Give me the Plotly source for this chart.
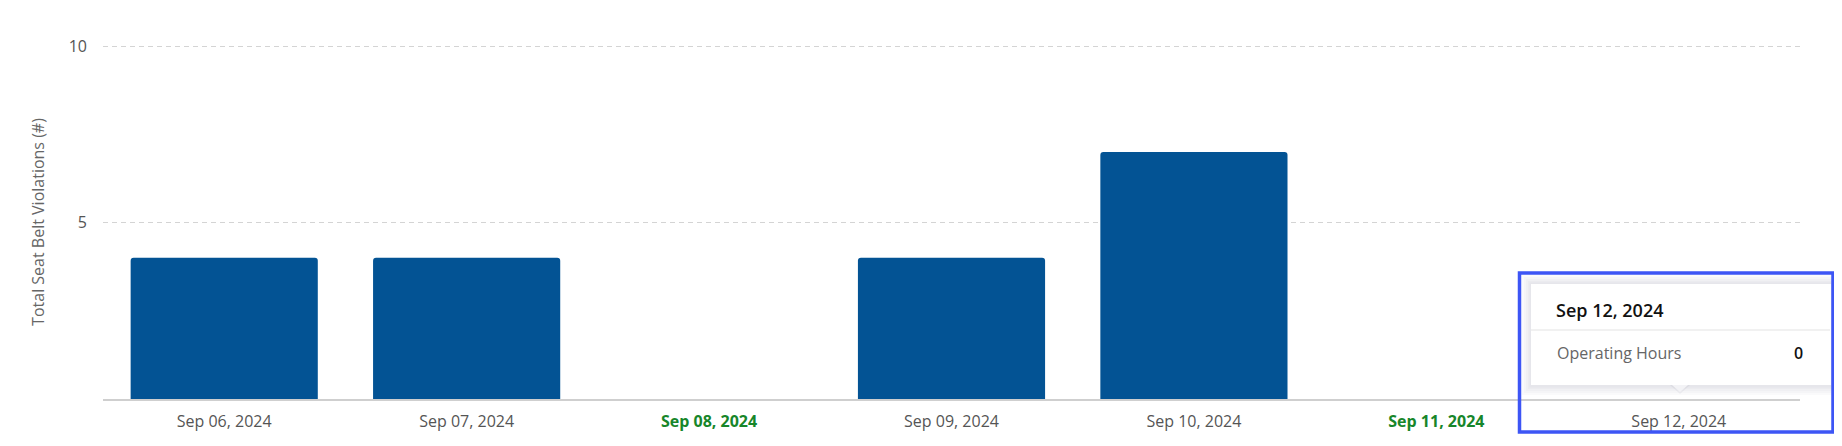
import plotly.graph_objects as go

dates = ["Sep 06, 2024", "Sep 07, 2024", "Sep 08, 2024", "Sep 09, 2024",
         "Sep 10, 2024", "Sep 11, 2024", "Sep 12, 2024"]
violations = [4, 4, 0, 4, 7, 0, 0]
highlighted = ["Sep 08, 2024", "Sep 11, 2024"]
y_ticks = [5, 10]
tooltip_title = "Sep 12, 2024"
tooltip_label = "Operating Hours"
tooltip_value = "0"

OFF = 8  # default body margin of the html page
W, H = 1842 - OFF, 446 - OFF
ML, MR, MT, MB = 103 - OFF, 42, 45 - OFF, 47
PW, PH = W - ML - MR, H - MT - MB
Y_TOP = 10.03


def px(x):
    """page pixel x -> paper fraction"""
    return (x - OFF - ML) / PW


def py(y):
    """page pixel y -> paper fraction"""
    return (H - MB - (y - OFF)) / PH


ticktext = []
for d in dates:
    if d in highlighted:
        ticktext.append(f"<b><span style='color:#17862a'>{d}</span></b>")
    else:
        ticktext.append(d)

fig = go.Figure()
fig.add_trace(go.Bar(
    x=dates, y=violations,
    marker=dict(color="#035394", cornerradius=3, line=dict(width=0)),
    hoverinfo="skip",
))

shapes = []
# tooltip shadow (soft, several layers)
for d in [9, 7, 5, 3, 1.5]:
    shapes.append(dict(type="rect", xref="paper", yref="paper",
                       x0=px(1531 - d), x1=px(1831 + d), y0=py(386 + d), y1=py(284 - d),
                       line=dict(width=0), fillcolor="rgba(40,40,80,0.022)", layer="above"))
# pointer shadow + pointer
shapes.append(dict(type="path", xref="paper", yref="paper",
                   path=f"M {px(1670)} {py(385)} L {px(1690)} {py(385)} L {px(1680)} {py(394)} Z",
                   line=dict(width=0), fillcolor="rgba(40,40,80,0.05)", layer="above"))
shapes.append(dict(type="rect", xref="paper", yref="paper",
                   x0=px(1531), x1=px(1831), y0=py(385), y1=py(284),
                   line=dict(width=0), fillcolor="white", layer="above"))
shapes.append(dict(type="path", xref="paper", yref="paper",
                   path=f"M {px(1672)} {py(385)} L {px(1688)} {py(385)} L {px(1680)} {py(392)} Z",
                   line=dict(width=0), fillcolor="#f3f3f6", layer="above"))
# divider
shapes.append(dict(type="line", xref="paper", yref="paper",
                   x0=px(1531), x1=px(1830), y0=py(330), y1=py(330),
                   line=dict(color="#e3e3e3", width=1), layer="above"))
# blue focus rectangle
shapes.append(dict(type="rect", xref="paper", yref="paper",
                   x0=px(1519.5), x1=px(1833), y0=py(432), y1=py(273),
                   line=dict(color="#3d55f5", width=3.5), fillcolor="rgba(0,0,0,0)", layer="above"))

annotations = [
    dict(text=tooltip_title, xref="paper", yref="paper",
         x=px(1554), y=py(310), xanchor="left", yanchor="middle", showarrow=False,
         font=dict(family="Open Sans", size=18, color="#111111", weight=600)),
    dict(text=tooltip_label, xref="paper", yref="paper",
         x=px(1555), y=py(353), xanchor="left", yanchor="middle", showarrow=False,
         font=dict(family="Open Sans", size=16, color="#666666")),
    dict(text=tooltip_value, xref="paper", yref="paper",
         x=px(1805), y=py(353), xanchor="right", yanchor="middle", showarrow=False,
         font=dict(family="Open Sans", size=16, color="#111111", weight=600)),
]

fig.update_layout(
    width=W, height=H,
    margin=dict(l=ML, r=MR, t=MT, b=MB, pad=0, autoexpand=False),
    paper_bgcolor="white", plot_bgcolor="white",
    bargap=0.228, showlegend=False,
    font=dict(family="Open Sans", size=16, color="#555555"),
    shapes=shapes, annotations=annotations,
    xaxis=dict(
        tickmode="array", tickvals=dates, ticktext=ticktext,
        showgrid=False, showline=True, linecolor="#cfcfcf", linewidth=1.5,
        ticks="", ticklabelstandoff=7,
        tickfont=dict(family="Open Sans", size=16, color="#555555"),
        fixedrange=True, automargin=False,
    ),
    yaxis=dict(
        range=[0, Y_TOP], tickvals=y_ticks, showgrid=True, gridcolor="#d4d4d4",
        griddash="5px,4px", gridwidth=1, zeroline=False, showline=False,
        ticks="", ticklabelstandoff=15,
        tickfont=dict(family="Open Sans", size=16, color="#555555"),
        title=dict(text="Total Seat Belt Violations (#)", standoff=20,
                   font=dict(family="Open Sans", size=16, color="#666666")),
        fixedrange=True, automargin=False,
    ),
)

fig.write_html("out.html")
